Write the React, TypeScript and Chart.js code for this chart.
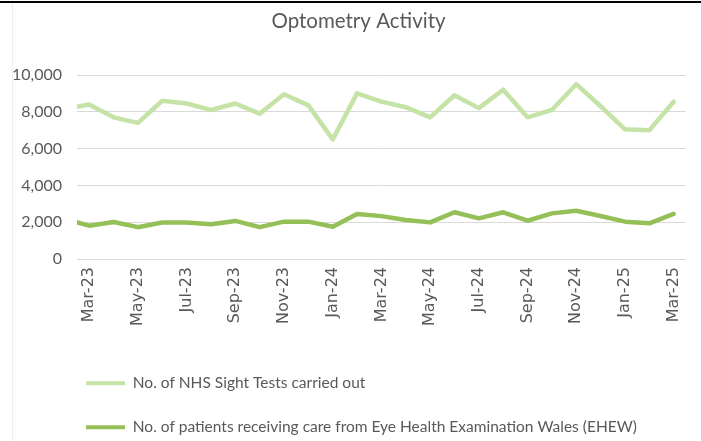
import React, { useEffect, useRef } from "react";
import { Chart, registerables } from "chart.js";

Chart.register(...registerables);

// Feb-23 is only partly visible (clipped at the left edge of the plot)
const months = [
  "Feb-23", "Mar-23", "Apr-23", "May-23", "Jun-23", "Jul-23", "Aug-23", "Sep-23", "Oct-23",
  "Nov-23", "Dec-23", "Jan-24", "Feb-24", "Mar-24", "Apr-24", "May-24", "Jun-24",
  "Jul-24", "Aug-24", "Sep-24", "Oct-24", "Nov-24", "Dec-24", "Jan-25", "Feb-25", "Mar-25",
];

const sightTests = [
  8150, 8400, 7700, 7400, 8600, 8450, 8100, 8450, 7900, 8950, 8350, 6500, 9000,
  8550, 8250, 7700, 8900, 8200, 9200, 7700, 8100, 9500, 8300, 7050, 7000, 8550,
];

const ehewPatients = [
  2170, 1810, 2010, 1730, 1980, 1980, 1890, 2070, 1730, 2030, 2030, 1750, 2450,
  2330, 2120, 1990, 2540, 2210, 2540, 2080, 2480, 2620, 2340, 2030, 1940, 2450,
];

const seriesNames = [
  "No. of NHS Sight Tests carried out",
  "No. of patients receiving care from Eye Health Examination Wales (EHEW)",
];

const yTicks = [0, 2000, 4000, 6000, 8000, 10000];

const TEXT = "#595959";
const LIGHT = "#c5e3a6";
const DARK = "#95bf57";

const boxShift = {
  id: "boxShift",
  afterLayout(chart: any) {
    const l = chart.legend;
    if (l) {
      l.left += 57.5;
      l.right += 57.5;
      l.top += 4;
      l.bottom += 4;
    }
    const t = chart.titleBlock;
    if (t) {
      t.left += 22;
    }
  },
};

export default function App() {
  const ref = useRef<HTMLCanvasElement | null>(null);

  useEffect(() => {
    if (!ref.current) return;
    const chart = new Chart(ref.current, {
      type: "line",
      data: {
        labels: months,
        datasets: [
          {
            label: seriesNames[0],
            data: sightTests,
            borderColor: LIGHT,
            backgroundColor: LIGHT,
            borderWidth: 4.5,
            pointRadius: 0,
            tension: 0,
            borderJoinStyle: "round",
            borderCapStyle: "round",
          },
          {
            label: seriesNames[1],
            data: ehewPatients,
            borderColor: DARK,
            backgroundColor: DARK,
            borderWidth: 4.5,
            pointRadius: 0,
            tension: 0,
            borderJoinStyle: "round",
            borderCapStyle: "round",
          },
        ],
      },
      options: {
        responsive: false,
        animation: false,
        layout: { padding: { left: 0, right: 6, top: 0, bottom: 0 } },
        plugins: {
          title: {
            display: true,
            text: "Optometry Activity",
            color: TEXT,
            font: { family: "Lato", size: 20.5, weight: "normal" },
            padding: { top: 9, bottom: 41.4 },
          },
          legend: {
            position: "bottom",
            align: "start",
            labels: {
              boxWidth: 39,
              boxHeight: 4,
              padding: 28.5,
              color: TEXT,
              font: { family: "Lato", size: 15.5 },
              generateLabels: (c: any) =>
                c.data.datasets.map((ds: any, i: number) => ({
                  text: ds.label,
                  fillStyle: ds.borderColor,
                  strokeStyle: ds.borderColor,
                  lineWidth: 0,
                  hidden: false,
                  datasetIndex: i,
                  fontColor: TEXT,
                })),
            },
          },
          tooltip: { enabled: false },
        },
        scales: {
          x: {
            type: "category",
            min: "Mar-23",
            offset: true,
            grid: { display: false, drawTicks: false },
            border: { display: false },
            ticks: {
              autoSkip: false,
              maxRotation: 90,
              minRotation: 90,
              padding: 8,
              color: TEXT,
              font: { family: "DejaVu Sans", size: 16 },
              callback: function (value: any) {
                const idx = Number(value);
                return (idx - 1) % 2 === 0 ? months[idx] : "";
              },
            },
            afterFit: (s: any) => {
              s.height = 84;
            },
          },
          y: {
            min: 0,
            max: 10000,
            afterBuildTicks: (s: any) => {
              s.ticks = yTicks.map((v) => ({ value: v }));
            },
            grid: { color: "#d9d9d9", lineWidth: 1, drawTicks: false },
            border: { display: false },
            ticks: {
              padding: 15,
              color: TEXT,
              font: { family: "Lato", size: 16 },
            },
            afterFit: (s: any) => {
              s.width = 77;
            },
          },
        },
      },
      plugins: [boxShift],
    });
    return () => chart.destroy();
  }, []);

  return (
    <div style={{ position: "absolute", left: 0, top: 0, width: 701, height: 441, background: "#fff" }}>
      <canvas ref={ref} width={701} height={441} />
      <div style={{ position: "absolute", left: 0, top: 1, width: 701, height: 2, background: "#000" }} />
      <div style={{ position: "absolute", left: 12, top: 3, width: 1, height: 438, background: "#eeeef2" }} />
    </div>
  );
}
